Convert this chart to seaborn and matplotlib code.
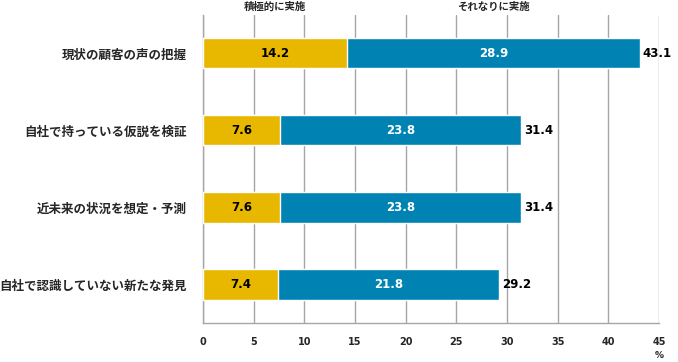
import matplotlib
matplotlib.use("Agg")
import matplotlib.pyplot as plt
import matplotlib.ticker as mticker
import numpy as np
import pandas as pd
import seaborn as sns

categories = ["現状の顧客の声の把握", "自社で持っている仮説を検証",
              "近未来の状況を想定・予測", "自社で認識していない新たな発見"]
active = [14.2, 7.6, 7.6, 7.4]          # 積極的に実施
moderate = [28.9, 23.8, 23.8, 21.8]     # それなりに実施
total = [43.1, 31.4, 31.4, 29.2]
series_names = ["積極的に実施", "それなりに実施"]
x_ticks = [0, 5, 10, 15, 20, 25, 30, 35, 40, 45]

GOLD = "#E8B800"
BLUE = "#0083B3"
GRID = "#A6A6A6"
NUM_FONT = ["DejaVu Sans"]

sns.set_style("white")
plt.rcParams['font.family'] = ['Noto Sans CJK JP', 'DejaVu Sans']

df = pd.DataFrame({"cat": categories, "active": active,
                   "moderate": moderate, "total": total})

fig = plt.figure(figsize=(6.78, 3.62), dpi=100)
ax = fig.add_axes([0.2994, 0.1077, 0.6726, 0.851])

# stacked bars: full length in blue, active part in gold over it
sns.barplot(data=df, x="total", y="cat", color=BLUE, orient="h",
            width=0.39, ax=ax, saturation=1, zorder=3)
sns.barplot(data=df, x="active", y="cat", color=GOLD, orient="h",
            width=0.39, ax=ax, saturation=1, zorder=4)

for i, (a, m, t) in enumerate(zip(active, moderate, total)):
    ax.text(a / 2, i, f"{a:.1f}", ha="center", va="center", family=NUM_FONT,
            fontsize=8.5, fontweight="bold", color="black", zorder=5)
    ax.text(a + m / 2, i, f"{m:.1f}", ha="center", va="center", family=NUM_FONT,
            fontsize=8.5, fontweight="bold", color="white", zorder=5)
    ax.text(t + 0.3, i, f"{t:.1f}", ha="left", va="center", family=NUM_FONT,
            fontsize=8.5, fontweight="bold", color="black", zorder=5)

# series headers over the first row
trans = matplotlib.transforms.blended_transform_factory(ax.transData, ax.transAxes)
ax.text(active[0] / 2, 1.01, series_names[0], transform=trans, ha="center",
        va="bottom", fontsize=7.5, fontweight="bold")
ax.text(active[0] + moderate[0] / 2, 1.01, series_names[1], transform=trans,
        ha="center", va="bottom", fontsize=7.5, fontweight="bold")

ax.set_xlim(0, 45)
ax.set_ylim(len(categories) - 0.5, -0.5)
ax.set_xticks(x_ticks)
ax.set_xticklabels([str(v) for v in x_ticks], fontsize=7, fontweight="bold",
                   family=NUM_FONT)
ax.xaxis.grid(True, color=GRID, linewidth=1, zorder=0)
ax.set_axisbelow(True)
ax.set_xlabel("")
ax.set_ylabel("")
ax.tick_params(axis="x", direction="out", length=4, color=GRID, pad=6)
ax.tick_params(axis="y", which="major", length=0, pad=12)
ax.set_yticks(range(len(categories)))
ax.set_yticklabels(categories, fontsize=9, fontweight="bold")
ax.yaxis.set_minor_locator(mticker.FixedLocator(np.arange(-0.5, len(categories), 1)))
ax.tick_params(axis="y", which="minor", direction="out", length=4, color=GRID)

for side in ["top", "right"]:
    ax.spines[side].set_visible(False)
for side in ["left", "bottom"]:
    ax.spines[side].set_color(GRID)
    ax.spines[side].set_linewidth(1)

ax.text(45, -0.107, "%", transform=trans, ha="center", va="center",
        fontsize=6.5, fontweight="bold", family=NUM_FONT)

fig.savefig("out.png", dpi=100)
